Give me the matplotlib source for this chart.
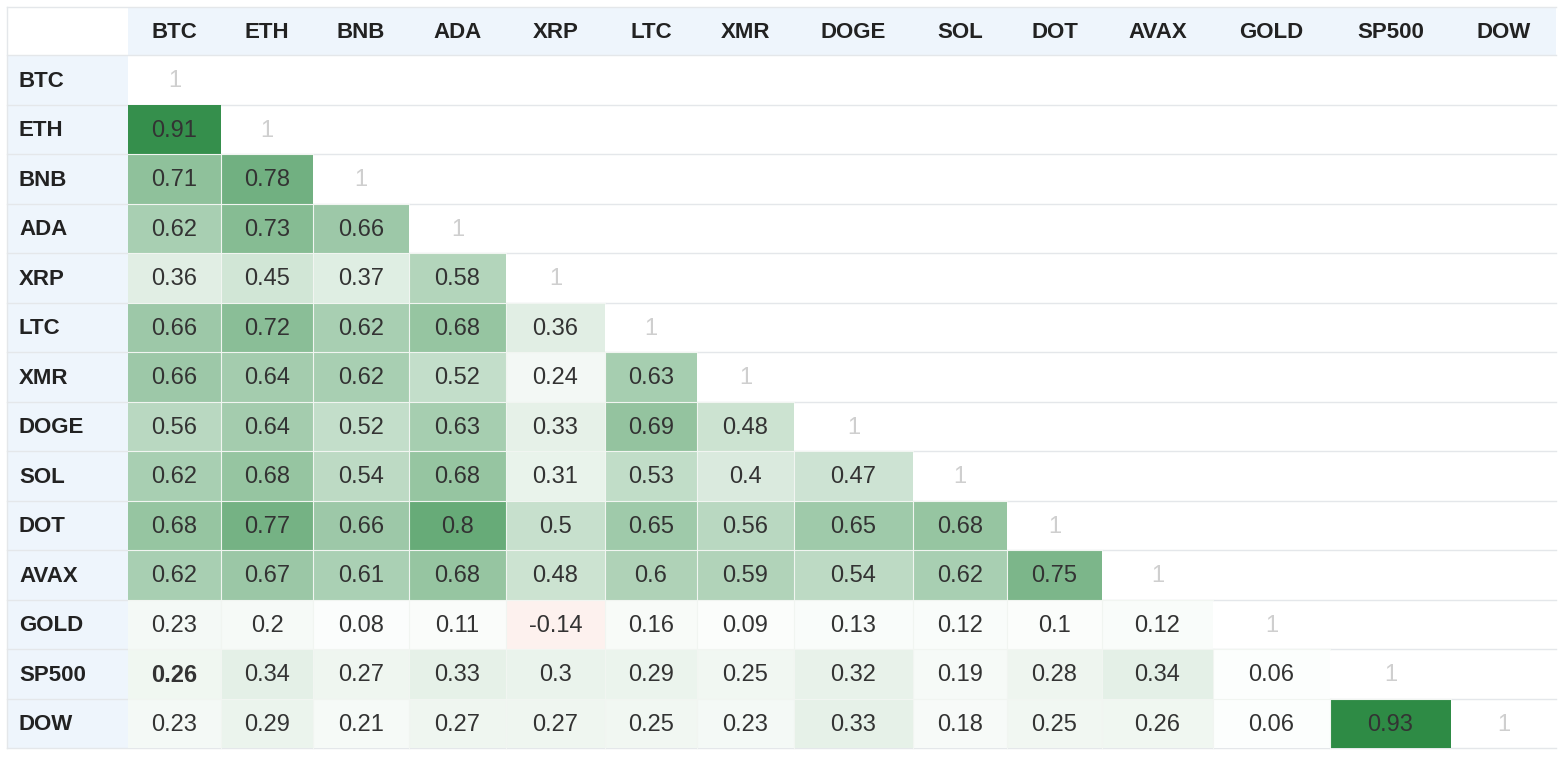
import numpy as np
import matplotlib
matplotlib.use("Agg")
import matplotlib.pyplot as plt
from matplotlib.colors import LinearSegmentedColormap, Normalize, to_rgb

# ---- data ----
assets = ["BTC", "ETH", "BNB", "ADA", "XRP", "LTC", "XMR", "DOGE",
          "SOL", "DOT", "AVAX", "GOLD", "SP500", "DOW"]

# lower triangle of the correlation matrix (row i has i values)
corr_rows = [
    [],
    [0.91],
    [0.71, 0.78],
    [0.62, 0.73, 0.66],
    [0.36, 0.45, 0.37, 0.58],
    [0.66, 0.72, 0.62, 0.68, 0.36],
    [0.66, 0.64, 0.62, 0.52, 0.24, 0.63],
    [0.56, 0.64, 0.52, 0.63, 0.33, 0.69, 0.48],
    [0.62, 0.68, 0.54, 0.68, 0.31, 0.53, 0.4, 0.47],
    [0.68, 0.77, 0.66, 0.8, 0.5, 0.65, 0.56, 0.65, 0.68],
    [0.62, 0.67, 0.61, 0.68, 0.48, 0.6, 0.59, 0.54, 0.62, 0.75],
    [0.23, 0.2, 0.08, 0.11, -0.14, 0.16, 0.09, 0.13, 0.12, 0.1, 0.12],
    [0.26, 0.34, 0.27, 0.33, 0.3, 0.29, 0.25, 0.32, 0.19, 0.28, 0.34, 0.06],
    [0.23, 0.29, 0.21, 0.27, 0.27, 0.25, 0.23, 0.33, 0.18, 0.25, 0.26, 0.06, 0.93],
]
bold_cells = [("SP500", "BTC")]

# ---- layout (pixels) ----
W, H = 1566, 768
table_left, table_top = 7, 7
index_w = 121
header_h = 48
row_h = 49.5
col_widths = [93, 92, 96, 97, 99, 92, 97, 119, 94, 95, 111, 117, 121, 105]
text_dy = 1.5  # baseline nudge so glyphs sit like the browser rendering

n = len(assets)
mat = np.full((n, n), np.nan)
for i, row in enumerate(corr_rows):
    mat[i, :len(row)] = row
    mat[i, i] = 1.0

x_edges = table_left + index_w + np.concatenate([[0], np.cumsum(col_widths)])
y_edges = table_top + header_h + row_h * np.arange(n + 1)
x_mid = (x_edges[:-1] + x_edges[1:]) / 2
y_mid = (y_edges[:-1] + y_edges[1:]) / 2 + text_dy
right = x_edges[-1]
bottom = y_edges[-1]

# white -> green, with a faint salmon side for negatives
green = np.array(to_rgb("#2e8b45"))
red = np.array(to_rgb("#e8603c"))
white = np.ones(3)
pos_nodes = [(0, 0), (0.23, 0.05), (0.36, 0.14), (0.5, 0.26), (0.62, 0.41),
             (0.72, 0.55), (0.8, 0.72), (0.93, 1.0), (1.0, 1.0)]
neg_nodes = [(-1.0, 0.9), (-0.5, 0.35), (-0.14, 0.09)]
nodes = []
for v, a in neg_nodes:
    nodes.append(((v + 1) / 2, tuple(white + a * (red - white))))
for v, a in pos_nodes:
    nodes.append(((v + 1) / 2, tuple(white + a * (green - white))))
cmap = LinearSegmentedColormap.from_list("corr", nodes)
norm = Normalize(-1, 1)

fig = plt.figure(figsize=(W / 100, H / 100), dpi=100)
ax = fig.add_axes([0, 0, 1, 1])
ax.set_xlim(0, W)
ax.set_ylim(H, 0)
ax.axis("off")

header_bg = "#eef5fc"
line_c = "#e4e7ea"
# header row and index column backgrounds
ax.fill_between([x_edges[0], right], table_top, table_top + header_h,
                color=header_bg, lw=0, zorder=0)
ax.fill_between([table_left, x_edges[0]], table_top + header_h, bottom,
                color=header_bg, lw=0, zorder=0)

# row separators / border
for y in np.concatenate([[table_top], y_edges]):
    ax.plot([table_left, right], [y, y], color=line_c, lw=1, zorder=1)
ax.plot([table_left, table_left], [table_top, bottom], color=line_c, lw=1, zorder=1)

# heat cells (diagonal stays white)
off_diag = mat.copy()
np.fill_diagonal(off_diag, np.nan)
ax.pcolormesh(x_edges, y_edges, np.ma.masked_invalid(off_diag), cmap=cmap,
              norm=norm, edgecolors="none", zorder=2)
# faint separators inside the coloured triangle only
sep_c = "#f1f5f1"
for j in range(n - 1):
    ax.plot([x_edges[j + 1]] * 2, [y_edges[j + 2], bottom], color=sep_c,
            lw=0.8, zorder=2.5)
for i in range(2, n):
    ax.plot([x_edges[0], x_edges[i]], [y_edges[i]] * 2, color=sep_c,
            lw=0.8, zorder=2.5)

font = "Liberation Sans"
for j, name in enumerate(assets):
    ax.text(x_mid[j], table_top + header_h / 2 + text_dy, name, ha="center",
            va="center", fontsize=16, fontweight="bold", color="#222222",
            family=font, zorder=3)
for i, name in enumerate(assets):
    ax.text(table_left + 12, y_mid[i], name, ha="left", va="center",
            fontsize=16, fontweight="bold", color="#222222", family=font, zorder=3)
    for j in range(i + 1):
        v = mat[i, j]
        if i == j:
            ax.text(x_mid[j], y_mid[i], "1", ha="center", va="center",
                    fontsize=17, color="#cfcfcf", family=font, zorder=3)
            continue
        weight = "bold" if (name, assets[j]) in bold_cells else "normal"
        ax.text(x_mid[j], y_mid[i], f"{v:g}", ha="center", va="center",
                fontsize=17, fontweight=weight, color="#333333",
                family=font, zorder=3)

fig.savefig("out.png", dpi=100, facecolor="white")
